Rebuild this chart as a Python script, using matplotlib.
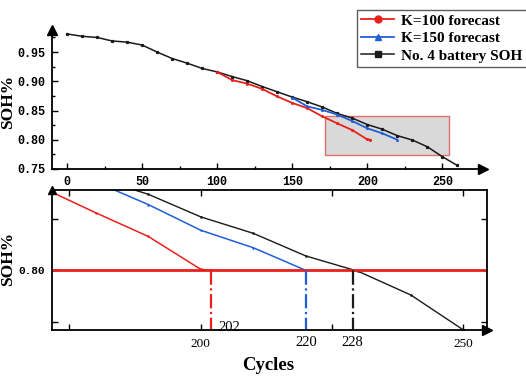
import matplotlib
matplotlib.use("Agg")
import matplotlib.pyplot as plt
from matplotlib.lines import Line2D
from matplotlib.patches import Rectangle
from matplotlib.ticker import MultipleLocator

# --- data ---
cycles_true = [0, 10, 20, 30, 40, 50, 60, 70, 80, 90, 100, 110, 120, 130, 140,
               150, 160, 170, 180, 190, 200, 210, 220, 230, 240, 250, 260]
soh_true = [0.981, 0.977, 0.975, 0.969, 0.967, 0.962, 0.950, 0.939, 0.931, 0.922,
            0.916, 0.908, 0.901, 0.891, 0.882, 0.873, 0.865, 0.856, 0.845, 0.837,
            0.826, 0.818, 0.807, 0.7995, 0.788, 0.771, 0.756]

cycles_k100 = [100, 110, 120, 130, 140, 150, 160, 170, 180, 190, 200, 202]
soh_k100 = [0.916, 0.902, 0.896, 0.887, 0.874, 0.863, 0.854, 0.840, 0.828, 0.8165,
            0.8005, 0.800]

cycles_k150 = [150, 160, 170, 180, 190, 200, 210, 220]
soh_k150 = [0.872, 0.857, 0.851, 0.843, 0.832, 0.8195, 0.811, 0.800]

eol_threshold = 0.80
eol_cycles = [202, 220, 228.9]
eol_labels = ["202", "220", "228"]

RED = "#e8201c"
BLUE = "#1f5fd6"
BLACK = "#1a1a1a"

serif = ["Liberation Serif", "DejaVu Serif"]
mono = ["Liberation Mono", "DejaVu Sans Mono"]

fig = plt.figure(figsize=(5.26, 3.78), dpi=100)

# ---------------- top panel: full curve ----------------
ax1 = fig.add_axes([0.099, 0.553, 0.819, 0.368])
ax1.plot(cycles_true, soh_true, color=BLACK, lw=1.1, marker="s", ms=1.3, zorder=3)
ax1.plot(cycles_k100, soh_k100, color=RED, lw=1.3, marker="o", ms=1.2, zorder=4)
ax1.plot(cycles_k150, soh_k150, color=BLUE, lw=1.3, marker="^", ms=1.2, zorder=5)

# zoom window marker
ax1.add_patch(Rectangle((171.5, 0.774), 83.0, 0.066, facecolor="#d9d9d9",
                        edgecolor="#e07070", lw=1.0, zorder=1))

ax1.set_xlim(-10, 277)
ax1.set_ylim(0.75, 0.988)
ax1.set_xticks([0, 50, 100, 150, 200, 250])
ax1.set_yticks([0.75, 0.80, 0.85, 0.90, 0.95])
ax1.xaxis.set_minor_locator(MultipleLocator(25))
ax1.yaxis.set_minor_locator(MultipleLocator(0.025))
ax1.spines[["top", "right"]].set_visible(False)
for s in ["left", "bottom"]:
    ax1.spines[s].set_linewidth(1.3)
ax1.tick_params(which="both", direction="in", width=1.0)
ax1.tick_params(which="major", length=4, pad=5)
ax1.tick_params(which="minor", length=2.5)
for lab in ax1.get_xticklabels() + ax1.get_yticklabels():
    lab.set_fontfamily(mono)
    lab.set_fontweight("bold")
    lab.set_fontsize(8.5)
ax1.plot(1, 0, ">", color="black", ms=7, transform=ax1.transAxes, clip_on=False)
ax1.plot(0, 1, "^", color="black", ms=7, transform=ax1.transAxes, clip_on=False)

handles = [Line2D([], [], color=RED, lw=1.3, marker="o", ms=5),
           Line2D([], [], color=BLUE, lw=1.3, marker="^", ms=5),
           Line2D([], [], color=BLACK, lw=1.1, marker="s", ms=4)]
labels = ["K=100 forecast", "K=150 forecast", "No. 4 battery SOH"]
leg = fig.legend(handles, labels,
                 loc="upper left", bbox_to_anchor=(0.664, 0.995),
                 prop={"family": serif, "weight": "bold", "size": 11},
                 frameon=True, fancybox=False, edgecolor="#333333",
                 handlelength=2.1, handletextpad=0.5, labelspacing=0.25,
                 borderpad=0.3)
leg.get_frame().set_linewidth(1.0)

# ---------------- bottom panel: zoomed view ----------------
ax2 = fig.add_axes([0.099, 0.127, 0.827, 0.370])
ax2.plot(cycles_true, soh_true, color=BLACK, lw=1.0, marker="s", ms=0.8)
ax2.plot(cycles_k100, soh_k100, color=RED, lw=1.1, marker="o", ms=0.8)
ax2.plot(cycles_k150, soh_k150, color=BLUE, lw=1.1, marker="^", ms=0.8)
ax2.axhline(eol_threshold, color=RED, lw=2.0)
for xc, col in zip(eol_cycles, [RED, BLUE, BLACK]):
    ax2.plot([xc, xc], [0.0, eol_threshold], color=col, lw=1.6, ls="-.")

ax2.set_xlim(171.7, 254.5)
ax2.set_ylim(0.771, 0.839)
ax2.set_xticks([175, 200, 225, 250])
ax2.set_xticklabels(["", "200", "", "250"])
ax2.set_yticks([0.775, 0.80, 0.825])
ax2.set_yticklabels(["", "0.80", ""])
ax2.tick_params(direction="in", length=4, width=1.0, top=True, right=True, pad=6)
ax2.tick_params(axis="y", pad=5)
for s in ax2.spines.values():
    s.set_linewidth(1.3)
for lab in ax2.get_xticklabels():
    lab.set_fontfamily(serif)
    lab.set_fontsize(9.5)
for lab in ax2.get_yticklabels():
    lab.set_fontfamily(mono)
    lab.set_fontweight("bold")
    lab.set_fontsize(8)

ax2.text(203.3, 0.7724, eol_labels[0], ha="left", va="center",
         family=serif, fontsize=10.5)
for xc, lab in zip(eol_cycles[1:], eol_labels[1:]):
    ax2.text(xc, -0.086, lab, ha="center", va="center", family=serif,
             fontsize=10.5, transform=ax2.get_xaxis_transform())
ax2.plot(1, 0, ">", color="black", ms=7, transform=ax2.transAxes, clip_on=False)
ax2.plot(0, 1, "^", color="black", ms=6, transform=ax2.transAxes, clip_on=False)

# axis labels
fig.text(0.016, 0.73, "SOH%", rotation=90, ha="center", va="center",
         family=serif, weight="bold", fontsize=12.5)
fig.text(0.016, 0.316, "SOH%", rotation=90, ha="center", va="center",
         family=serif, weight="bold", fontsize=12.5)
fig.text(0.51, 0.032, "Cycles", ha="center", va="center",
         family=serif, weight="bold", fontsize=13.5)

fig.savefig("out.png", dpi=100)
